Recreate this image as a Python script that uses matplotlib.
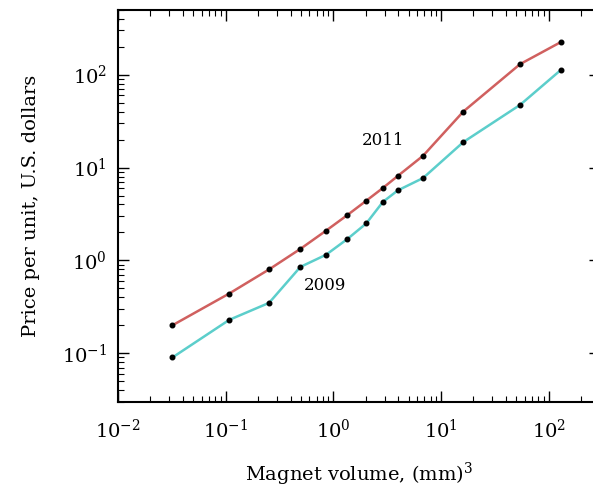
import numpy as np
import matplotlib
matplotlib.use("Agg")
import matplotlib.pyplot as plt

plt.rcParams['font.family'] = 'serif'
plt.rcParams['font.serif'] = ['DejaVu Serif']
plt.rcParams['mathtext.fontset'] = 'dejavuserif'

# magnet volume (mm^3) and unit price (USD)
vol_2011 = [0.032, 0.108, 0.253, 0.494, 0.855, 1.35, 2.02, 2.88, 3.96, 6.81, 16.1, 54.2, 129]
price_2011 = [0.200, 0.44, 0.80, 1.33, 2.09, 3.08, 4.39, 6.02, 8.11, 13.4, 40.1, 130, 224]
vol_2009 = [0.032, 0.108, 0.253, 0.494, 0.855, 1.35, 2.02, 2.88, 3.96, 6.81, 16.1, 54.2, 129]
price_2009 = [0.090, 0.229, 0.349, 0.851, 1.15, 1.70, 2.50, 4.26, 5.67, 7.71, 18.8, 47.3, 112]

red = '#d0605f'
cyan = '#5ccecb'

fig = plt.figure(figsize=(5.93, 4.90), dpi=100)
ax = fig.add_axes([0.199, 0.18, 0.813, 0.80])

ax.plot(vol_2011, price_2011, color=red, lw=1.8, zorder=2)
ax.plot(vol_2009, price_2009, color=cyan, lw=1.8, zorder=2)
ax.plot(vol_2011, price_2011, 'o', color='black', ms=3.3, zorder=3)
ax.plot(vol_2009, price_2009, 'o', color='black', ms=3.3, zorder=3)

ax.set_xscale('log')
ax.set_yscale('log')
ax.set_xlim(1e-2, 300)
ax.set_ylim(0.03, 500)

ax.text(2.9, 19.5, '2011', fontsize=12, ha='center', va='center')
ax.text(0.84, 0.54, '2009', fontsize=12, ha='center', va='center')

ax.set_xlabel(r'Magnet volume, (mm)$^3$', fontsize=14, labelpad=14)
ax.set_ylabel('Price per unit, U.S. dollars', fontsize=14, labelpad=16)

ax.tick_params(which='both', direction='in', top=True, right=True, labelsize=14)
ax.tick_params(which='major', length=8, width=1)
ax.tick_params(which='minor', length=4, width=0.8)
ax.tick_params(axis='x', pad=12)
ax.tick_params(axis='y', pad=8)
for s in ax.spines.values():
    s.set_linewidth(1.5)

fig.savefig('out.png', dpi=100)
